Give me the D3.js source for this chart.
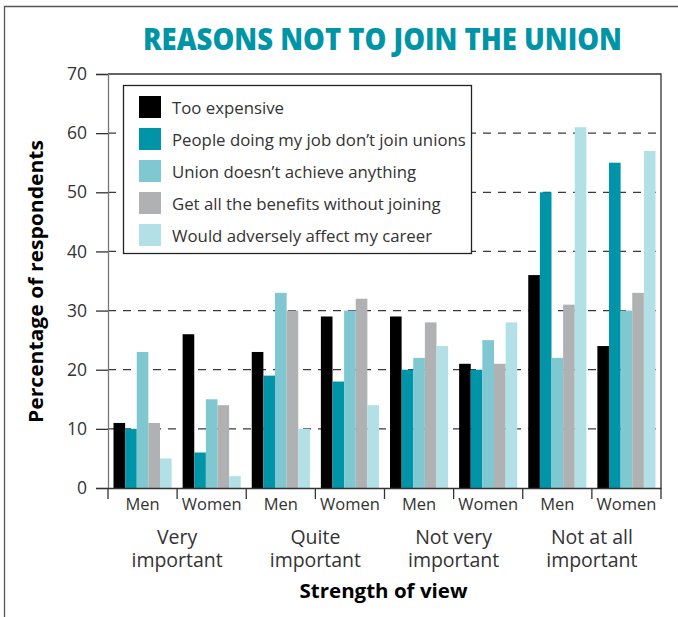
<!DOCTYPE html>
<html>
<head>
<meta charset="utf-8">
<script src="https://cdn.jsdelivr.net/npm/d3@7"></script>
<style>
  html, body { margin: 0; padding: 0; background: #fff; }
  svg { display: block; font-family: "Open Sans", "Noto Sans", sans-serif; }
</style>
</head>
<body>
<svg id="chart" width="678" height="617"></svg>
<script>
// Survey groups: strength of view split by sex
const strengths = ["Very important", "Quite important", "Not very important", "Not at all important"];
const strengthLines = [["Very", "important"], ["Quite", "important"], ["Not very", "important"], ["Not at all", "important"]];
const sexes = ["Men", "Women"];

// Reasons given (series)
const reasons = [
  "Too expensive",
  "People doing my job don\u2019t join unions",
  "Union doesn\u2019t achieve anything",
  "Get all the benefits without joining",
  "Would adversely affect my career"
];
const reasonColors = ["#000000", "#0094a8", "#7fc8d1", "#b0b1b3", "#b3dfe6"];

// Percentage of respondents, one array per reason, ordered
// Very Men, Very Women, Quite Men, Quite Women, Not very Men, Not very Women, Not at all Men, Not at all Women
const tooExpensive   = [11, 26, 23, 29, 29, 21, 36, 24];
const peopleDontJoin = [10,  6, 19, 18, 20, 20, 50, 55];
const achieveNothing = [23, 15, 33, 30, 22, 25, 22, 30];
const benefitsAnyway = [11, 14, 30, 32, 28, 21, 31, 33];
const affectCareer   = [ 5,  2, 10, 14, 24, 28, 61, 57];
const seriesValues = [tooExpensive, peopleDontJoin, achieveNothing, benefitsAnyway, affectCareer];

const yTicks = [0, 10, 20, 30, 40, 50, 60, 70];

const svg = d3.select("#chart");

// Frame around the figure
svg.append("path")
  .attr("d", "M4.5,617 V6.5 H678")
  .attr("fill", "none")
  .attr("stroke", "#555")
  .attr("stroke-width", 1.3);

// Title
svg.append("text")
  .attr("x", 382.5)
  .attr("y", 49.5)
  .attr("text-anchor", "middle")
  .attr("font-size", 30)
  .attr("font-weight", 800)
  .attr("fill", "#0095a6")
  .attr("textLength", 479)
  .attr("lengthAdjust", "spacingAndGlyphs")
  .text("REASONS NOT TO JOIN THE UNION");

const plotLeft = 108, plotRight = 661, plotTop = 74, plotBottom = 488;

const groups = [];
strengths.forEach(s => sexes.forEach(g => groups.push(s + "|" + g)));

const x0 = d3.scaleBand().domain(groups).range([plotLeft, plotRight]).padding(0);
const bw = x0.bandwidth();
const x1 = d3.scaleBand().domain(d3.range(reasons.length)).range([5.5, bw - 5.5]).padding(0);
const y = d3.scaleLinear().domain([0, 70]).range([plotBottom, plotTop]);

// Dashed gridlines
svg.append("g")
  .selectAll("line")
  .data(yTicks.filter(v => v > 0 && v < 70))
  .join("line")
  .attr("x1", plotLeft).attr("x2", plotRight)
  .attr("y1", d => y(d)).attr("y2", d => y(d))
  .attr("stroke", "#3a3a3a")
  .attr("stroke-width", 1.3)
  .attr("stroke-dasharray", "8,7");

// Plot frame: top and right edges
svg.append("path")
  .attr("d", `M${plotLeft},${y(70)} H${plotRight} V${plotBottom}`)
  .attr("fill", "none")
  .attr("stroke", "#333")
  .attr("stroke-width", 1.3);

// Bars
const barData = [];
groups.forEach((gKey, gi) => {
  seriesValues.forEach((vals, si) => {
    barData.push({ group: gKey, series: si, value: vals[gi] });
  });
});
svg.append("g")
  .selectAll("rect")
  .data(barData)
  .join("rect")
  .attr("x", d => x0(d.group) + x1(d.series))
  .attr("width", x1.bandwidth())
  .attr("y", d => y(d.value))
  .attr("height", d => y(0) - y(d.value))
  .attr("fill", d => reasonColors[d.series]);

// Y axis
const yAxis = svg.append("g")
  .attr("transform", `translate(${plotLeft},0)`)
  .call(d3.axisLeft(y).tickValues(yTicks).tickSize(12).tickPadding(9));
yAxis.select(".domain").attr("stroke", "#777").attr("stroke-width", 1.3);
yAxis.selectAll(".tick line").attr("stroke", "#333").attr("stroke-width", 1.3);
yAxis.selectAll(".tick text")
  .attr("font-size", 17.5)
  .attr("font-family", "\"Open Sans\", sans-serif")
  .attr("fill", "#333");

// X axis baseline with group boundary ticks
const xb = svg.append("g").attr("transform", `translate(0,${plotBottom})`);
xb.call(d3.axisBottom(x0).tickSize(0).tickPadding(10).tickFormat(d => d.split("|")[1]));
xb.select(".domain").attr("stroke", "#333").attr("stroke-width", 1.3);
xb.selectAll(".tick text")
  .attr("font-size", 16.5)
  .attr("font-family", "\"Open Sans\", sans-serif")
  .attr("fill", "#333");
const boundaries = groups.map(g => x0(g)).concat([plotRight]);
xb.selectAll("line.sep")
  .data(boundaries)
  .join("line")
  .attr("class", "sep")
  .attr("x1", d => d).attr("x2", d => d)
  .attr("y1", 0).attr("y2", 11)
  .attr("stroke", "#333")
  .attr("stroke-width", 1.3);

// Strength-of-view labels under each Men/Women pair
strengths.forEach((s, i) => {
  const cx = x0(s + "|Women");
  strengthLines[i].forEach((line, li) => {
    svg.append("text")
      .attr("x", cx)
      .attr("y", 544 + li * 23)
      .attr("text-anchor", "middle")
      .attr("font-size", 19.5)
      .attr("fill", "#333")
      .text(line);
  });
});

// Axis titles
svg.append("text")
  .attr("x", (plotLeft + plotRight) / 2 - 1)
  .attr("y", 598)
  .attr("text-anchor", "middle")
  .attr("font-size", 20)
  .attr("font-weight", 700)
  .attr("fill", "#000")
  .attr("textLength", 168)
  .attr("lengthAdjust", "spacingAndGlyphs")
  .text("Strength of view");

svg.append("text")
  .attr("transform", "translate(43,281.5) rotate(-90)")
  .attr("text-anchor", "middle")
  .attr("font-size", 20)
  .attr("font-weight", 700)
  .attr("fill", "#000")
  .attr("textLength", 283)
  .attr("lengthAdjust", "spacingAndGlyphs")
  .text("Percentage of respondents");

// Legend
const lg = svg.append("g");
lg.append("rect")
  .attr("x", 123.5).attr("y", 85.5)
  .attr("width", 348).attr("height", 168)
  .attr("fill", "#fff")
  .attr("stroke", "#222")
  .attr("stroke-width", 1.3);
const items = lg.selectAll("g.item")
  .data(reasons)
  .join("g")
  .attr("class", "item")
  .attr("transform", (d, i) => `translate(139,${96 + i * 32})`);
items.append("rect")
  .attr("width", 22).attr("height", 22)
  .attr("fill", (d, i) => reasonColors[i]);
items.append("text")
  .attr("x", 33).attr("y", 11)
  .attr("dominant-baseline", "central")
  .attr("font-size", 16.8)
  .attr("fill", "#333")
  .text(d => d);
</script>
</body>
</html>
